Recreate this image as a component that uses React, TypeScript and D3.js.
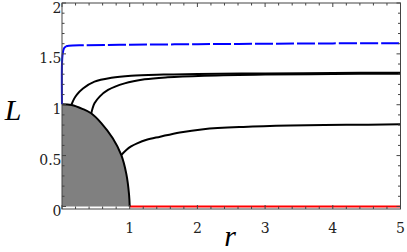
import React, { useRef, useEffect } from "react";
import * as d3 from "d3";

const boundaryR = [0, 0.14, 0.3, 0.43, 0.58, 0.75, 0.875, 0.95, 0.99, 1.0];
const boundaryL = [1.005, 0.997, 0.96, 0.916, 0.82, 0.67, 0.506, 0.32, 0.12, 0];

const curve1R = [0.137, 0.18, 0.22, 0.31, 0.48, 0.73, 1.02, 1.5, 2, 3, 4, 5];
const curve1L = [0.997, 1.06, 1.1, 1.16, 1.227, 1.265, 1.285, 1.296, 1.302, 1.308, 1.312, 1.315];

const curve2R = [0.433, 0.45, 0.48, 0.556, 0.68, 0.925, 1.22, 1.56, 2.1, 3, 4, 5];
const curve2L = [0.916, 0.96, 1.014, 1.08, 1.145, 1.21, 1.25, 1.27, 1.285, 1.297, 1.302, 1.305];

const curve3R = [0.875, 0.95, 1.02, 1.11, 1.25, 1.45, 1.74, 2.09, 2.68, 3.37, 4.2, 5];
const curve3L = [0.506, 0.555, 0.59, 0.62, 0.655, 0.686, 0.728, 0.76, 0.782, 0.795, 0.802, 0.807];

const blueRiseR = [0, 0, 0.01, 0.03, 0.06];
const blueRiseL = [1.005, 1.4, 1.5, 1.555, 1.575];
const blueDashR = [0.06, 0.1, 0.3, 1, 2, 3, 4, 5];
const blueDashL = [1.575, 1.58, 1.585, 1.59, 1.595, 1.6, 1.603, 1.605];

const redR = [1, 5];
const redL = [0, 0];

const xTicks = [1, 2, 3, 4, 5];
const yTicks = [0, 0.5, 1, 1.5, 2];

const zip = (rs, ls) => rs.map((r, i) => ({ r, L: ls[i] }));

function App() {
  const svgRef = useRef();

  useEffect(() => {
    const svg = d3.select(svgRef.current);
    svg.selectAll("*").remove();

    const width = 407;
    const height = 252;
    const x = d3.scaleLinear().domain([0, 5]).range([62, 400.5]);
    const y = d3.scaleLinear().domain([-0.025, 2]).range([209, 3]);

    const line = d3
      .line()
      .x((d) => x(d.r))
      .y((d) => y(d.L))
      .curve(d3.curveCatmullRom.alpha(0.5));

    svg.attr("width", width).attr("height", height);

    const content = svg.append("g");

    // shaded region under the boundary
    const bnd = zip(boundaryR, boundaryL);
    const area = d3
      .area()
      .x((d) => x(d.r))
      .y0(y(0))
      .y1((d) => y(d.L))
      .curve(d3.curveCatmullRom.alpha(0.5));
    content.append("path").attr("d", area(bnd)).attr("fill", "#808080");

    content
      .append("path")
      .attr("d", line(zip(redR, redL)))
      .attr("fill", "none")
      .attr("stroke", "#ff0000")
      .attr("stroke-width", 2);

    [
      [curve1R, curve1L],
      [curve2R, curve2L],
      [curve3R, curve3L],
    ].forEach(([rs, ls]) => {
      content
        .append("path")
        .attr("d", line(zip(rs, ls)))
        .attr("fill", "none")
        .attr("stroke", "#000")
        .attr("stroke-width", 2);
    });

    content
      .append("path")
      .attr("d", line(bnd))
      .attr("fill", "none")
      .attr("stroke", "#000")
      .attr("stroke-width", 2);

    content
      .append("path")
      .attr("d", line(zip(blueRiseR, blueRiseL)))
      .attr("fill", "none")
      .attr("stroke", "#0000ff")
      .attr("stroke-width", 2);
    content
      .append("path")
      .attr("d", line(zip(blueDashR, blueDashL)))
      .attr("fill", "none")
      .attr("stroke", "#0000ff")
      .attr("stroke-width", 2)
      .attr("stroke-dasharray", "18,3");

    // frame + inward ticks
    const axes = svg.append("g").attr("stroke", "#444").attr("fill", "none");
    const [x0, x1] = x.range();
    const [yb, yt] = y.range();
    axes
      .append("rect")
      .attr("x", x0)
      .attr("y", yt)
      .attr("width", x1 - x0)
      .attr("height", yb - yt)
      .attr("stroke-width", 1);

    d3.range(0, 5.001, 0.2).forEach((v, i) => {
      const len = i % 5 === 0 ? 4 : 2.5;
      const px = x(v);
      axes.append("line").attr("x1", px).attr("x2", px).attr("y1", yb).attr("y2", yb - len);
      axes.append("line").attr("x1", px).attr("x2", px).attr("y1", yt).attr("y2", yt + len);
    });
    d3.range(0, 2.001, 0.1).forEach((v, i) => {
      const len = i % 5 === 0 ? 4 : 2.5;
      const py = y(v);
      axes.append("line").attr("x1", x0).attr("x2", x0 + len).attr("y1", py).attr("y2", py);
      axes.append("line").attr("x1", x1).attr("x2", x1 - len).attr("y1", py).attr("y2", py);
    });

    const labels = svg
      .append("g")
      .attr("font-family", "'DejaVu Serif', 'Liberation Serif', serif")
      .attr("font-size", 14)
      .attr("fill", "#222");

    xTicks.forEach((t) => {
      labels
        .append("text")
        .attr("x", x(t))
        .attr("y", 233)
        .attr("text-anchor", "middle")
        .text(t);
    });
    yTicks.forEach((t) => {
      labels
        .append("text")
        .attr("x", 61.5)
        .attr("y", y(t) + 9.5)
        .attr("text-anchor", "end")
        .text(t);
    });

    svg
      .append("text")
      .attr("x", 13)
      .attr("y", 120)
      .attr("font-family", "'Liberation Serif', serif")
      .attr("font-style", "italic")
      .attr("font-size", 30)
      .attr("text-anchor", "middle")
      .text("L");
    svg
      .append("text")
      .attr("x", 230)
      .attr("y", 246)
      .attr("font-family", "'Liberation Serif', serif")
      .attr("font-style", "italic")
      .attr("font-size", 30)
      .attr("text-anchor", "middle")
      .text("r");
  }, []);

  return (
    <svg
      ref={svgRef}
      style={{ position: "fixed", left: 0, top: 0, background: "#fff" }}
    ></svg>
  );
}

export default App;
